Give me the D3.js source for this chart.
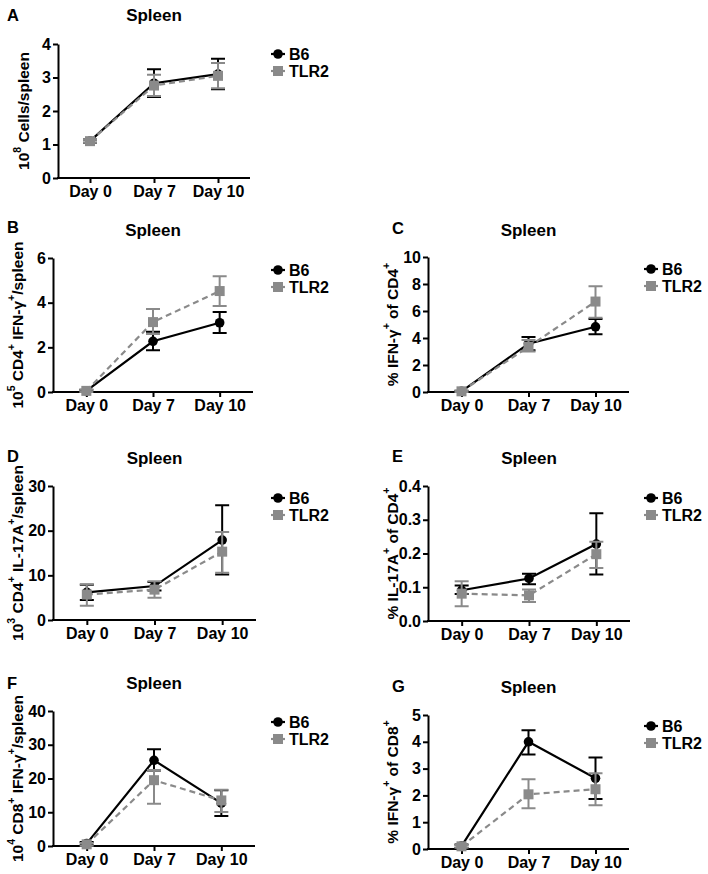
<!DOCTYPE html>
<html>
<head>
<meta charset="utf-8">
<script src="https://cdn.jsdelivr.net/npm/d3@7"></script>
<style>
  body { margin: 0; background: #fff; }
  svg { font-family: "Liberation Sans", Arial, sans-serif; font-weight: bold; }
</style>
</head>
<body>
<div id="chart"></div>
<script>
const days = ["Day 0", "Day 7", "Day 10"];
const seriesNames = ["B6", "TLR2"];

// mean, then [low, high] of the error bar, one entry per day
const aB6 = [1.1, 2.83, 3.1];
const aB6Err = [[1.05, 1.15], [2.42, 3.25], [2.65, 3.56]];
const aTLR2 = [1.1, 2.76, 3.05];
const aTLR2Err = [[1.05, 1.15], [2.45, 3.08], [2.68, 3.43]];

const bB6 = [0.05, 2.27, 3.1];
const bB6Err = [[0, 0.1], [1.87, 2.7], [2.64, 3.58]];
const bTLR2 = [0.05, 3.13, 4.52];
const bTLR2Err = [[0, 0.1], [2.6, 3.72], [3.85, 5.18]];

const cB6 = [0.05, 3.58, 4.83];
const cB6Err = [[0, 0.1], [3.1, 4.07], [4.27, 5.4]];
const cTLR2 = [0.05, 3.35, 6.7];
const cTLR2Err = [[0, 0.1], [3.0, 3.85], [5.5, 7.83]];

const dB6 = [6.2, 7.6, 17.9];
const dB6Err = [[4.5, 7.9], [6.6, 8.5], [10.2, 25.7]];
const dTLR2 = [5.7, 6.8, 15.3];
const dTLR2Err = [[3.2, 8.0], [5.0, 8.7], [10.6, 19.7]];

const eB6 = [0.091, 0.126, 0.228];
const eB6Err = [[0.08, 0.105], [0.109, 0.14], [0.138, 0.319]];
const eTLR2 = [0.081, 0.076, 0.198];
const eTLR2Err = [[0.044, 0.118], [0.056, 0.093], [0.157, 0.235]];

const fB6 = [0.7, 25.4, 12.7];
const fB6Err = [[0.2, 1.2], [22.4, 28.7], [8.9, 16.5]];
const fTLR2 = [0.5, 19.5, 13.5];
const fTLR2Err = [[0.1, 0.9], [12.5, 22.5], [10.1, 16.7]];

const gB6 = [0.11, 4.0, 2.64];
const gB6Err = [[0.05, 0.17], [3.53, 4.43], [1.87, 3.41]];
const gTLR2 = [0.1, 2.04, 2.23];
const gTLR2Err = [[0.05, 0.15], [1.52, 2.6], [1.63, 2.83]];

const panels = [
  { letter: "A", x0: 58, x1: 250, yTop: 44, yBot: 178, max: 4, ticks: [0, 1, 2, 3, 4], fmt: d3.format("d"),
    label: [["10"], ["8", 1], [" Cells/spleen"]], labelX: 23, titleY: 21, letterY: 21,
    b6: aB6, b6Err: aB6Err, tlr: aTLR2, tlrErr: aTLR2Err, legY: 54 },
  { letter: "B", x0: 53, x1: 253, yTop: 258, yBot: 392, max: 6, ticks: [0, 2, 4, 6], fmt: d3.format("d"),
    label: [["10"], ["5", 1], [" CD4"], ["+", 1], [" IFN-γ"], ["+", 1], ["/spleen"]], labelX: 17, titleY: 236, letterY: 233,
    b6: bB6, b6Err: bB6Err, tlr: bTLR2, tlrErr: bTLR2Err, legY: 270 },
  { letter: "C", x0: 428, x1: 629, yTop: 257, yBot: 392, max: 10, ticks: [0, 2, 4, 6, 8, 10], fmt: d3.format("d"),
    label: [["% IFN-γ"], ["+", 1], [" of CD4"], ["+", 1]], labelX: 392, titleY: 236, letterY: 234,
    b6: cB6, b6Err: cB6Err, tlr: cTLR2, tlrErr: cTLR2Err, legY: 269 },
  { letter: "D", x0: 53, x1: 256, yTop: 486, yBot: 620, max: 30, ticks: [0, 10, 20, 30], fmt: d3.format("d"),
    label: [["10"], ["3", 1], [" CD4"], ["+", 1], [" IL-17A"], ["+", 1], ["/spleen"]], labelX: 17, titleY: 464, letterY: 462,
    b6: dB6, b6Err: dB6Err, tlr: dTLR2, tlrErr: dTLR2Err, legY: 498 },
  { letter: "E", x0: 428, x1: 630, yTop: 486, yBot: 621, max: 0.4, ticks: [0, 0.1, 0.2, 0.3, 0.4], fmt: d3.format(".1f"),
    label: [["% IL-17A"], ["+", 1], [" of CD4"], ["+", 1]], labelX: 392, titleY: 464, letterY: 462,
    b6: eB6, b6Err: eB6Err, tlr: eTLR2, tlrErr: eTLR2Err, legY: 498 },
  { letter: "F", x0: 53, x1: 255, yTop: 711, yBot: 846, max: 40, ticks: [0, 10, 20, 30, 40], fmt: d3.format("d"),
    label: [["10"], ["4", 1], [" CD8"], ["+", 1], [" IFN-γ"], ["+", 1], ["/spleen"]], labelX: 17, titleY: 689, letterY: 689,
    b6: fB6, b6Err: fB6Err, tlr: fTLR2, tlrErr: fTLR2Err, legY: 722 },
  { letter: "G", x0: 428, x1: 629, yTop: 715, yBot: 849, max: 5, ticks: [0, 1, 2, 3, 4, 5], fmt: d3.format("d"),
    label: [["% IFN-γ"], ["+", 1], [" of CD8"], ["+", 1]], labelX: 392, titleY: 693, letterY: 692,
    b6: gB6, b6Err: gB6Err, tlr: gTLR2, tlrErr: gTLR2Err, legY: 726 }
];

const gray = "#8a8a8a";

const svg = d3.select("#chart").append("svg")
  .attr("width", 708)
  .attr("height", 874);

panels.forEach(p => {
  const g = svg.append("g");

  const x = d3.scalePoint()
    .domain(days)
    .range([p.x0, p.x1])
    .padding(0.5);

  const y = d3.scaleLinear()
    .domain([0, p.max])
    .range([p.yBot, p.yTop]);

  // axes
  g.append("g")
    .attr("transform", `translate(${p.x0},0)`)
    .call(d3.axisLeft(y).tickValues(p.ticks).tickFormat(p.fmt).tickSize(5).tickPadding(2).tickSizeOuter(0))
    .call(a => a.select(".domain").attr("stroke-width", 2))
    .call(a => a.selectAll(".tick line").attr("stroke-width", 2))
    .call(a => a.selectAll("text").attr("font-size", 16).attr("font-family", "Liberation Sans, Arial").attr("font-weight", "bold"));

  g.append("g")
    .attr("transform", `translate(0,${p.yBot})`)
    .call(d3.axisBottom(x).tickSize(5).tickPadding(3).tickSizeOuter(0))
    .call(a => a.select(".domain").attr("stroke-width", 2).attr("d", `M${p.x0 - 1},0H${p.x1}`))
    .call(a => a.selectAll(".tick line").attr("stroke-width", 2))
    .call(a => a.selectAll("text").attr("font-size", 16).attr("font-family", "Liberation Sans, Arial").attr("font-weight", "bold"));

  // y label with superscripts
  const lab = g.append("text")
    .attr("transform", `translate(${p.labelX},${(p.yTop + p.yBot) / 2}) rotate(-90)`)
    .attr("text-anchor", "middle")
    .attr("dominant-baseline", "central")
    .attr("font-size", 15.5);
  let shift = 0;
  p.label.forEach(([t, sup]) => {
    const dy = sup ? -6 - shift : -shift;
    lab.append("tspan")
      .attr("dy", dy)
      .attr("font-size", sup ? 10.5 : 15.5)
      .text(t);
    shift = sup ? -6 : 0;
  });

  // title and panel letter
  g.append("text")
    .attr("x", x("Day 7"))
    .attr("y", p.titleY)
    .attr("text-anchor", "middle")
    .attr("font-size", 17)
    .text("Spleen");

  g.append("text")
    .attr("x", p.x0 < 300 ? 7 : 392)
    .attr("y", p.letterY)
    .attr("font-size", 16.5)
    .text(p.letter);

  const series = [
    { name: seriesNames[0], vals: p.b6, err: p.b6Err, color: "#000", dash: null, shape: "circle" },
    { name: seriesNames[1], vals: p.tlr, err: p.tlrErr, color: gray, dash: "6,4", shape: "square" }
  ];

  const line = d3.line().x((d, i) => x(days[i])).y(d => y(d));

  series.forEach(s => {
    // error bars
    s.err.forEach((e, i) => {
      const cx = x(days[i]);
      g.append("path")
        .attr("d", `M${cx},${y(e[0])}V${y(e[1])}M${cx - 7},${y(e[0])}H${cx + 7}M${cx - 7},${y(e[1])}H${cx + 7}`)
        .attr("stroke", s.color)
        .attr("stroke-width", 2)
        .attr("fill", "none");
    });

    g.append("path")
      .datum(s.vals)
      .attr("d", line)
      .attr("fill", "none")
      .attr("stroke", s.color)
      .attr("stroke-width", 2.2)
      .attr("stroke-dasharray", s.dash);

    s.vals.forEach((v, i) => {
      if (s.shape === "circle") {
        g.append("circle").attr("cx", x(days[i])).attr("cy", y(v)).attr("r", 4.8).attr("fill", s.color);
      } else {
        g.append("rect").attr("x", x(days[i]) - 5).attr("y", y(v) - 5).attr("width", 10).attr("height", 10).attr("fill", s.color);
      }
    });
  });

  // legend
  const lx = p.x0 < 300 ? 278 : 651;
  series.forEach((s, i) => {
    const ly = p.legY + i * 17;
    g.append("line")
      .attr("x1", lx - 7).attr("x2", lx + 7)
      .attr("y1", ly).attr("y2", ly)
      .attr("stroke", s.color).attr("stroke-width", 2.2);
    if (s.shape === "circle") {
      g.append("circle").attr("cx", lx).attr("cy", ly).attr("r", 4.8).attr("fill", s.color);
    } else {
      g.append("rect").attr("x", lx - 5).attr("y", ly - 5).attr("width", 10).attr("height", 10).attr("fill", s.color);
    }
    g.append("text")
      .attr("x", lx + 11)
      .attr("y", ly)
      .attr("dy", "0.36em")
      .attr("font-size", 16)
      .text(s.name);
  });
});
</script>
</body>
</html>
